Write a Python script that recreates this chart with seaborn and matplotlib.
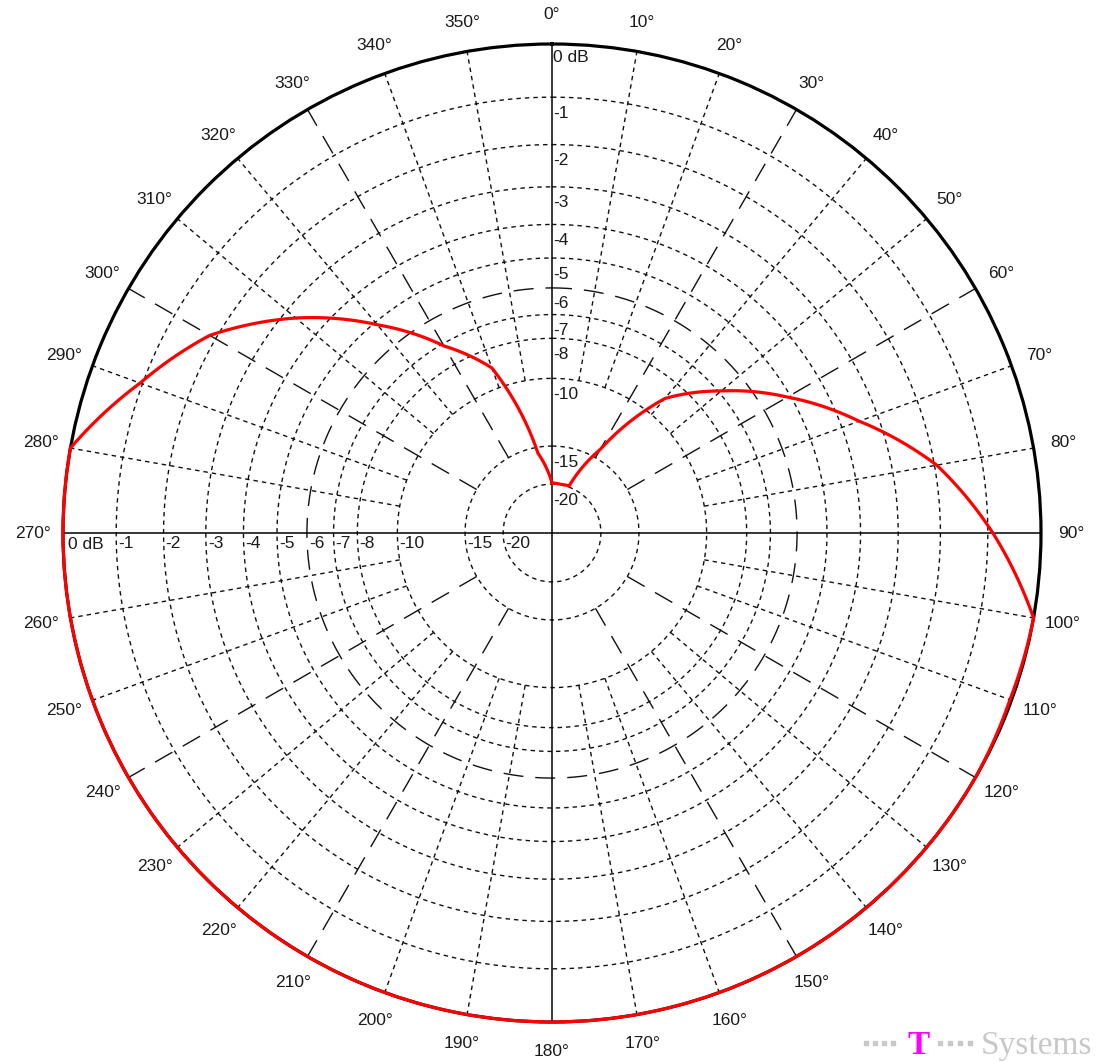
import numpy as np
import pandas as pd
import matplotlib
matplotlib.use("Agg")
import matplotlib.pyplot as plt
import seaborn as sns
from matplotlib.patches import Rectangle

# ---------------- data ----------------
angles_deg = [0, 10, 20, 30, 40, 50, 60, 70, 80, 90, 100, 110, 120, 130, 140, 150,
              160, 170, 180, 190, 200, 210, 220, 230, 240, 250, 260, 270, 280, 290,
              300, 310, 320, 330, 340, 350, 360]
gain_db = [-19.8, -19.9, -19.8, -14.1, -8.9, -6.9, -5.1, -3.5, -1.95, -0.9, 0.0, -0.03,
           0.0, 0.0, 0.0, 0.0, 0.0, 0.0, 0.0, 0.0, 0.0, 0.0, 0.0, 0.0, 0.0, 0.0, 0.0,
           0.0, 0.0, -0.95, -1.85, -3.3, -5.1, -7.1, -8.9, -15.6, -19.8]

ring_db = [-1, -2, -3, -4, -5, -6, -7, -8, -10, -15, -20]
ring_labels = ["-1", "-2", "-3", "-4", "-5", "-6", "-7", "-8", "-10", "-15", "-20"]
spoke_deg = list(range(0, 360, 10))
angle_labels = [f"{a}°" for a in spoke_deg]

# ---------------- style ----------------
sns.set_theme(style="white")
plt.rcParams['font.family'] = ['Liberation Sans', 'DejaVu Sans']

W, H = 1097, 1062
fig = plt.figure(figsize=(W / 100, H / 100), dpi=100)
fig.patch.set_facecolor("white")
cx, cy, R = 552, 533, 489
ax = fig.add_axes([(cx - R) / W, (H - cy - R) / H, 2 * R / W, 2 * R / H],
                  projection='polar')
ax.set_theta_zero_location('N')
ax.set_theta_direction(-1)
ax.set_facecolor("white")
ax.grid(False)


def db2r(d):
    return 10 ** (np.asarray(d, dtype=float) / 20.0)


grid_lw = 1.0
short = (0, (3.2, 2.9))
long_ = (0, (14.4, 8.6))
grid_col = "#111111"
txt_col = "#1a1a1a"

# rings
th = np.linspace(0, 2 * np.pi, 1441)
for d in ring_db:
    ax.plot(th, np.full_like(th, db2r(d)), color=grid_col, lw=grid_lw,
            ls=long_ if d == -6 else short, zorder=1)

# spokes
for a in spoke_deg:
    t = np.deg2rad(a)
    if a % 90 == 0:
        ax.plot([t, t], [0, 1], color="black", lw=1.1, ls="-", zorder=1.5)
    elif a % 30 == 0:
        ax.plot([t, t], [db2r(-15), 1], color=grid_col, lw=grid_lw, ls=long_, zorder=1)
    else:
        ax.plot([t, t], [db2r(-10), 1], color=grid_col, lw=grid_lw, ls=short, zorder=1)

# pattern curve
n_before = len(ax.lines)
df = pd.DataFrame({"theta": np.deg2rad(angles_deg), "r": db2r(gain_db)})
sns.lineplot(data=df, x="theta", y="r", ax=ax, color="#ff0000", lw=2.3,
             sort=False, estimator=None, zorder=3, clip_on=False)
for ln in ax.lines[n_before:]:
    ln.get_path()._interpolation_steps = 60

ax.set_ylim(0, 1)
ax.set_xticks([])
ax.set_yticks([])
ax.set_xlabel("")
ax.set_ylabel("")
ax.spines["polar"].set_linewidth(2.3)
ax.spines["polar"].set_color("black")

# angle labels
for a, lab in zip(spoke_deg, angle_labels):
    ax.text(np.deg2rad(a), 1.061, lab, ha="center", va="center", fontsize=12.5,
            color=txt_col, clip_on=False)

# radial labels along 0° axis
ax.annotate("0 dB", xy=(0, 1), xytext=(1, -14), textcoords="offset pixels",
            ha="left", va="center", fontsize=12.5, color=txt_col)
for d, lab in zip(ring_db, ring_labels):
    ax.annotate(lab, xy=(0, float(db2r(d))), xytext=(1, -16),
                textcoords="offset pixels", ha="left", va="center",
                fontsize=12.5, color=txt_col)

# radial labels along 270° axis
ax.annotate("0 dB", xy=(1.5 * np.pi, 1), xytext=(5, -11), textcoords="offset pixels",
            ha="left", va="center", fontsize=12.5, color=txt_col)
for d, lab in zip(ring_db, ring_labels):
    ax.annotate(lab, xy=(1.5 * np.pi, float(db2r(d))), xytext=(2, -10),
                textcoords="offset pixels", ha="left", va="center",
                fontsize=12.5, color=txt_col)

# logo  "····T···Systems"
logo_gray = "#c8c8c8"
for xc in [866, 875, 884, 893]:
    fig.patches.append(Rectangle(((xc - 2) / W, (H - 1045) / H), 4 / W, 4 / H,
                                 transform=fig.transFigure, color=logo_gray,
                                 figure=fig))
for xc in [940, 950, 960, 970]:
    fig.patches.append(Rectangle(((xc - 2) / W, (H - 1045) / H), 4 / W, 4 / H,
                                 transform=fig.transFigure, color=logo_gray,
                                 figure=fig))
fig.text(907 / W, (H - 1054) / H, "T", fontfamily="Liberation Serif",
         fontweight="bold", fontsize=24, color="#ff00ff", ha="left", va="baseline")
fig.text(981 / W, (H - 1054) / H, "Systems", fontfamily="Liberation Serif",
         fontsize=24, color=logo_gray, ha="left", va="baseline")

fig.savefig("out.png", dpi=100, facecolor="white")
